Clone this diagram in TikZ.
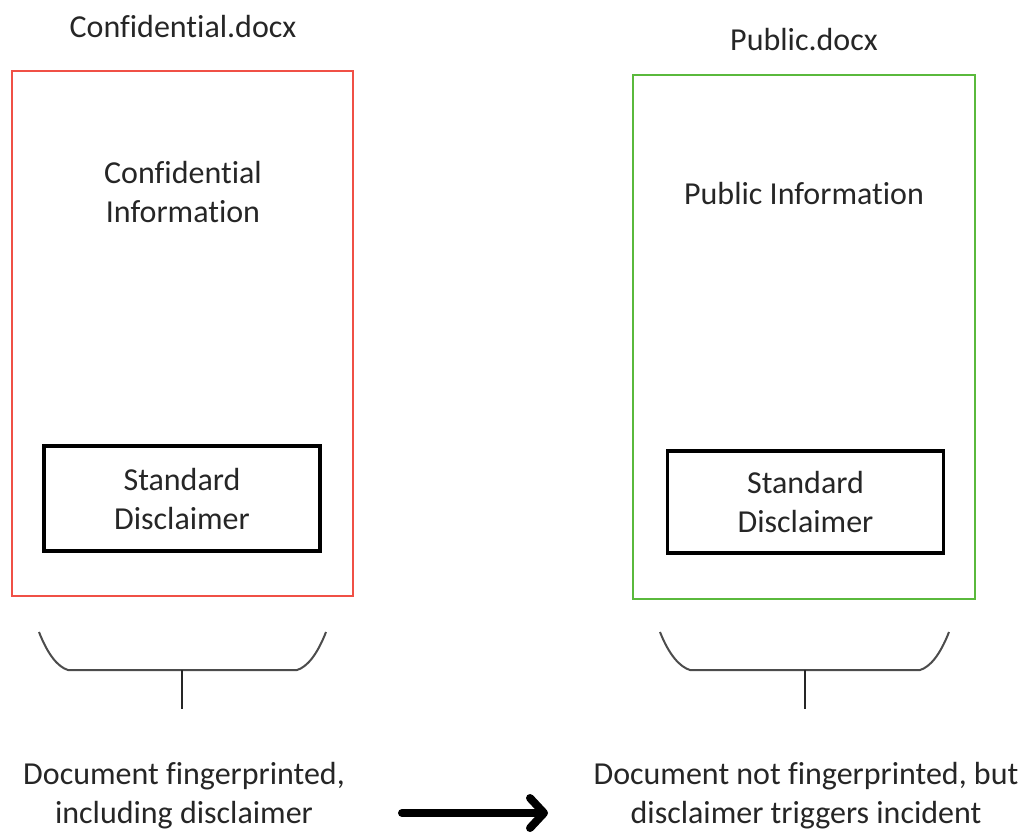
\documentclass[tikz,border=0pt]{standalone}
\usepackage{fontspec}
\setmainfont{Carlito}[Ligatures=NoCommon]
\usetikzlibrary{arrows.meta}
\begin{document}
\begin{tikzpicture}[x=1pt,y=-1pt,
  lbl/.style={font=\fontsize{32}{39}\selectfont, text=black!85, align=center, inner sep=0pt},
  docbox/.style={line width=2.2pt},
  discbox/.style={draw=black, line width=3.5pt, minimum width=276pt, minimum height=105pt, inner sep=0pt},
  brace/.style={draw=black!70, line width=2pt},
  stem/.style={draw=black!85, line width=1.6pt},
  bigarrow/.style={line width=8pt, line cap=round, -{Straight Barb[length=14pt,width=30pt,line cap=round,line join=round]}}]
\useasboundingbox (0,0) rectangle (1019,838);
% document boxes
\draw[docbox, draw={rgb,255:red,240;green,80;blue,70}] (12,71) rectangle (353,596);
\draw[docbox, draw={rgb,255:red,90;green,185;blue,60}] (633,75) rectangle (975,599);
% titles
\node[lbl] (t1) at (183,27) {Confidential.docx};
\node[lbl] (t2) at (804,40) {Public.docx};
\node[lbl] (c1) at (183,192) {Confidential\\Information};
\node[lbl] (c2) at (804,194) {Public Information};
% disclaimers
\node[discbox] (d1) at (182,498.5) {};
\node[lbl] at (d1.center) {Standard\\Disclaimer};
\node[discbox, minimum height=102pt] (d2) at (805.5,502) {};
\node[lbl] at (d2.center) {Standard\\Disclaimer};
% braces
\coordinate (b1) at (182,670);
\coordinate (s1) at (182,709);
\draw[brace] (39,632) .. controls (48,655) and (58,667) .. (68,670) -- (297,670) .. controls (307,667) and (317,655) .. (326,632);
\draw[stem] (b1) -- (s1);
\coordinate (b2) at (805,670);
\coordinate (s2) at (805,709);
\draw[brace] (660,632) .. controls (669,655) and (680,667) .. (690,670) -- (920,670) .. controls (930,667) and (940,655) .. (949,632);
\draw[stem] (b2) -- (s2);
% bottom texts
\node[lbl] (r1) at (184,796) {Document fingerprinted,\\including disclaimer};
\node[lbl] (r2) at (806,796) {Document not fingerprinted, but\\disclaimer triggers incident};
% arrow
\coordinate (a1) at (402,813);
\coordinate (a2) at (548,813);
\draw[bigarrow] (a1) -- (a2);
\end{tikzpicture}
\end{document}
